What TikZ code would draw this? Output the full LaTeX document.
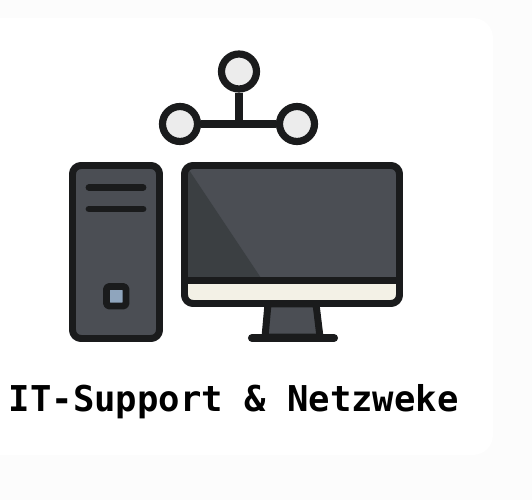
\documentclass[tikz,border=0pt]{standalone}
\usepackage{fontspec}
\newfontfamily\labelfont{DejaVu Sans Mono}
\definecolor{ink}{HTML}{1A1B1C}
\definecolor{case}{HTML}{4B4E54}
\definecolor{glare}{HTML}{3B3F42}
\definecolor{cream}{HTML}{F3F1E6}
\definecolor{led}{HTML}{8FA5BD}
\definecolor{hub}{HTML}{ECECEC}
\definecolor{paper}{HTML}{FCFCFC}
\tikzset{
	outline/.style={draw=ink, line width=3.97pt, line join=round},
	slot/.style={draw=ink, line width=3.9pt, line cap=round},
	hubnode/.style={circle, draw=ink, fill=hub, line width=4.1pt, minimum size=.7cm, inner sep=0pt},
	link/.style={draw=ink, line width=4pt}
}

\begin{document}
\begin{tikzpicture}[x=.02cm, y=-.02cm]
	\useasboundingbox (0,0) rectangle (532,500);
	
	% draw background
	\fill[paper] (0,0) rectangle (532,500);
	\fill[white, rounded corners=.4cm] (-30,18) rectangle (493,455);
	
	% draw network
	\node[hubnode] (top) at (239,71.5) {};
	\node[hubnode] (left) at (180,124) {};
	\node[hubnode] (right) at (297,124) {};
	\coordinate (joint) at (top |- left);
	\draw[link] (left) -- (right);
	\draw[link] (top) -- (joint);
	
	% draw tower
	\filldraw[outline, fill=case, rounded corners=.17cm] (72.5,165.5) rectangle (159.5,338.5);
	\draw[slot] (89,187.5) -- (143,187.5);
	\draw[slot] (89,209) -- (143,209);
	\filldraw[outline, fill=led, rounded corners=.06cm] (106.5,286.5) rectangle (126,306);
	
	% draw stand
	\filldraw[outline, fill=case] (268,304) -- (316,304) -- (320,337) -- (265,337) -- cycle;
	\draw[slot, line width=4.6pt] (252,338) -- (334,338);
	
	% draw monitor
	\fill[cream, rounded corners=.17cm] (184.5,270) rectangle (399.5,303.5);
	\begin{scope}
		\clip[rounded corners=.17cm] (184.5,165.5) rectangle (399.5,303.5);
		\fill[case] (184.5,165.5) rectangle (399.5,281);
		\fill[glare] (186,165.5) -- (263,281) -- (184.5,281) -- cycle;
	\end{scope}
	\draw[ink, line width=4.2pt] (184.5,280.5) -- (399.5,280.5);
	\draw[outline, rounded corners=.17cm] (184.5,165.5) rectangle (399.5,303.5);
	
	% draw label
	\node[anchor=base west, inner sep=0pt, text=black, font=\labelfont\bfseries\fontsize{20.25pt}{23pt}\selectfont] (title) at (8.5,411.5) {IT-Support \& Netzweke};
\end{tikzpicture}
\end{document}
